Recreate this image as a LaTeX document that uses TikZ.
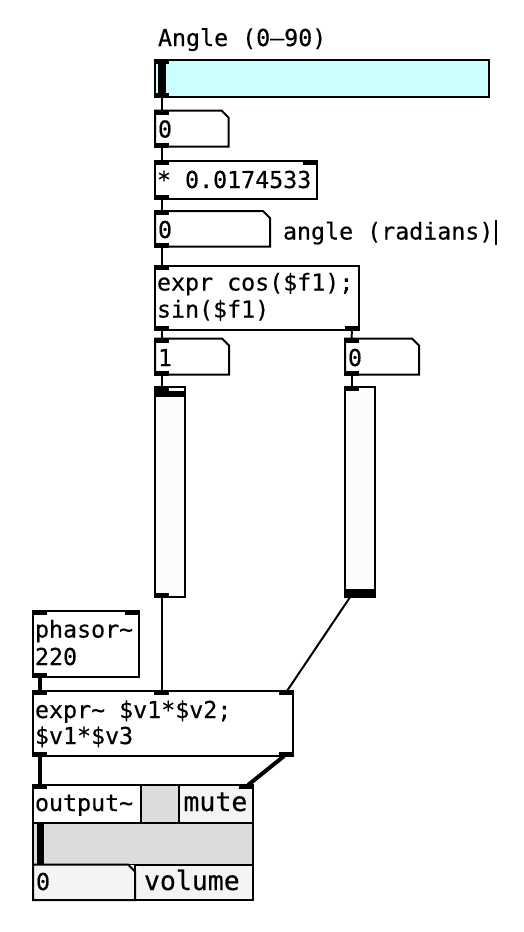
\documentclass[tikz,border=0pt]{standalone}
\usepackage{fontspec}
\newfontfamily\pdmono{DejaVu Sans Mono}[FakeBold=0.4]
\definecolor{hslfill}{RGB}{204,255,255}
\definecolor{vslfill}{RGB}{252,252,252}
\definecolor{gopdark}{RGB}{220,220,220}
\definecolor{goplight}{RGB}{244,244,244}

\begin{document}
\begin{tikzpicture}[x=1pt, y=-1pt, line width=2pt,
	obj/.style={draw, anchor=north west, inner sep=0, outer sep=0},
	num/.style={anchor=north west, inner sep=0, outer sep=0},
	iolet/.style={fill=black, inner sep=0, outer sep=-1pt, minimum width=15pt, minimum height=5pt},
	txt/.style={anchor=base west, inner sep=0, font=\pdmono\fontsize{23.3}{28}\selectfont},
	gop/.style={anchor=base west, inner sep=0, font=\pdmono\fontsize{26.5}{30}\selectfont},
	ctl/.style={line width=2pt},
	sig/.style={line width=4pt}]
	\useasboundingbox (0,0) rectangle (524,932);
	% angle slider and the chain below it
	\node[txt] (c1) at (157,46) {Angle (0–90)};
	\node[obj, fill=hslfill, minimum width=334, minimum height=37] (hsl) at (155,59.5) {};
	\fill (158,60.5) rectangle (166,95.5);
	\node[num, minimum width=73.5, minimum height=36] (nb1) at (155,110.5) {};
	\node[obj, minimum width=161.5, minimum height=37.5] (mul) at (155,161) {};
	\node[num, minimum width=115, minimum height=35.5] (nb2) at (155,211) {};
	\node[txt] (c2) at (282,239.5) {angle (radians)};
	\draw (496,220) -- (496,245);
	\node[obj, minimum width=203.5, minimum height=64] (expr) at (155,265.5) {};
	\node[num, minimum width=74, minimum height=36] (nb3) at (155,338.5) {};
	\node[num, minimum width=74, minimum height=36] (nb4) at (345,338.5) {};
	\node[obj, fill=vslfill, minimum width=29.5, minimum height=209.5] (vsl1) at (155,387) {};
	\node[obj, fill=vslfill, minimum width=30, minimum height=209.5] (vsl2) at (345,387) {};
	\fill (154,391) rectangle (185.5,397);
	\fill (344,588.5) rectangle (376,597.7);
	\node[obj, minimum width=106, minimum height=65.5] (phasor) at (33,611) {};
	\node[obj, minimum width=259.5, minimum height=65] (exprs) at (33,691) {};
	% output~ abstraction
	\node[obj, fill=white, minimum width=108, minimum height=38] (olbl) at (33,785) {};
	\node[obj, fill=gopdark, minimum width=38, minimum height=38] (otgl) at (141,785) {};
	\node[obj, fill=goplight, minimum width=73.7, minimum height=38] (omute) at (179,785) {};
	\node[obj, fill=gopdark, minimum width=219.7, minimum height=41.5] (ovol) at (33,823) {};
	\node[num, fill=goplight, minimum width=102, minimum height=35.5] (onum) at (33,864.5) {};
	\node[obj, fill=goplight, minimum width=117.7, minimum height=35.5] (olab) at (135,864.5) {};
	\fill (37,824) rectangle (43.5,863.5);
	\node[obj, minimum width=219.7, minimum height=115] (out) at (33,785) {};
	% number boxes
	\foreach \n in {nb1,nb2,nb3,nb4,onum}
		\draw (\n.south west) -- (\n.north west) -- ([xshift=-7pt]\n.north east)
			-- ([yshift=-7pt]\n.north east) -- (\n.south east) -- cycle;
	% texts
	\node[txt] (t1) at ([shift={(2,27)}]nb1.north west) {0};
	\node[txt] (t2) at ([shift={(1,27)}]mul.north west) {* 0.0174533};
	\node[txt] (t3) at ([shift={(2,27)}]nb2.north west) {0};
	\node[txt] (t4) at ([shift={(1,25)}]expr.north west) {expr cos(\$f1);};
	\node[txt] (t5) at ([shift={(1,52)}]expr.north west) {sin(\$f1)};
	\node[txt] (t6) at ([shift={(2,27.5)}]nb3.north west) {1};
	\node[txt] (t7) at ([shift={(2,27.5)}]nb4.north west) {0};
	\node[txt] (t8) at ([shift={(1,26.5)}]phasor.north west) {phasor\textasciitilde};
	\node[txt] (t9) at ([shift={(1,54)}]phasor.north west) {220};
	\node[txt] (t10) at ([shift={(1,27)}]exprs.north west) {expr\textasciitilde{} \$v1*\$v2;};
	\node[txt] (t11) at ([shift={(1,53)}]exprs.north west) {\$v1*\$v3};
	\node[txt] (t12) at ([shift={(1,26)}]out.north west) {output\textasciitilde};
	\node[gop] (t13) at ([shift={(3.5,26)}]omute.north west) {mute};
	\node[txt] (t14) at ([shift={(2,25.5)}]onum.north west) {0};
	\node[gop] (t15) at ([shift={(8,25.5)}]olab.north west) {volume};
	% inlets and outlets
	\foreach \b in {hsl,nb1,mul,nb2,expr,nb3,nb4,vsl1,vsl2,phasor,exprs,out}
		\node[iolet, anchor=north west] (\b-i) at (\b.north west) {};
	\foreach \b in {hsl,nb1,mul,nb2,expr,nb3,nb4,vsl1,vsl2,phasor,exprs}
		\node[iolet, anchor=south west] (\b-o) at (\b.south west) {};
	\foreach \b in {mul,phasor,exprs,out}
		\node[iolet, anchor=north east] (\b-ir) at (\b.north east) {};
	\foreach \b in {expr,exprs}
		\node[iolet, anchor=south east] (\b-or) at (\b.south east) {};
	\node[iolet, anchor=north west] (exprs-im) at ([xshift=122pt]exprs.north west) {};
	% connections
	\draw[ctl] (hsl-o) -- (nb1-i);
	\draw[ctl] (nb1-o) -- (mul-i);
	\draw[ctl] (mul-o) -- (nb2-i);
	\draw[ctl] (nb2-o) -- (expr-i);
	\draw[ctl] (expr-o) -- (nb3-i);
	\draw[ctl] (expr-or) -- (nb4-i);
	\draw[ctl] (nb3-o) -- (vsl1-i);
	\draw[ctl] (nb4-o) -- (vsl2-i);
	\draw[ctl] (vsl1-o) -- (exprs-im);
	\draw[ctl] (vsl2-o) -- (exprs-ir);
	\draw[sig] (phasor-o) -- (exprs-i);
	\draw[sig] (exprs-o) -- (out-i);
	\draw[sig] (exprs-or) -- (out-ir);
\end{tikzpicture}
\end{document}
